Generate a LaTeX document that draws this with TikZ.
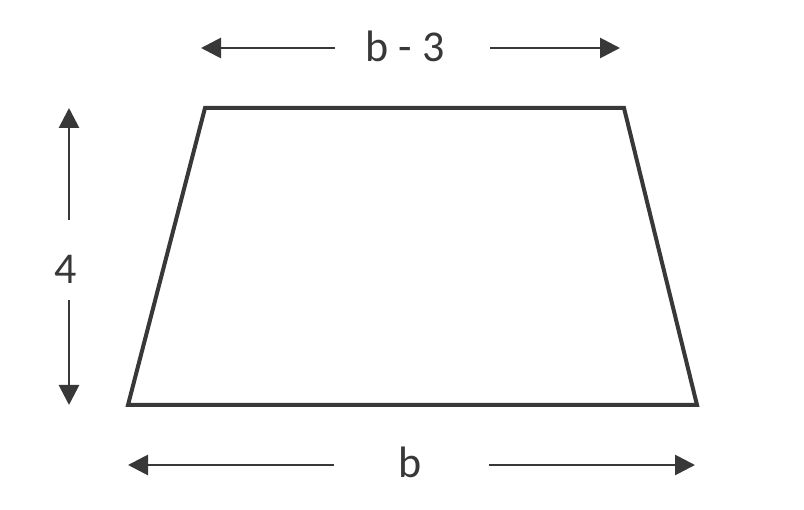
\documentclass[tikz,border=0pt]{standalone}
\usepackage{fontspec}
\setmainfont{Carlito}
\usetikzlibrary{arrows.meta}
\definecolor{ink}{HTML}{383838}
\begin{document}
\begin{tikzpicture}[x=1pt,y=-1pt,
  shape line/.style={draw=ink,line width=4pt,line join=miter},
  dim/.style={draw=ink,line width=2.8pt,-{Triangle[length=20pt,width=20pt]}},
  lbl/.style={text=ink,font=\fontsize{44}{48}\selectfont,inner sep=0pt}]
\useasboundingbox (0,0) rectangle (804,510);
\coordinate (A) at (128,405);
\coordinate (B) at (697,405);
\coordinate (C) at (624,108);
\coordinate (D) at (205,108);
\draw[shape line] (A) -- (B) -- (C) -- (D) -- cycle;
% top dimension
\node[lbl] (t) at (405,46) {b - 3};
\coordinate (tl1) at (335,48); \coordinate (tl2) at (201,48);
\coordinate (tr1) at (490,48); \coordinate (tr2) at (620,48);
\draw[dim] (tl1) -- (tl2);
\draw[dim] (tr1) -- (tr2);
% left dimension
\node[lbl] (l) at (66,269) {4};
\coordinate (lu1) at (69,220); \coordinate (lu2) at (69,108);
\coordinate (ld1) at (69,300); \coordinate (ld2) at (69,405);
\draw[dim] (lu1) -- (lu2);
\draw[dim] (ld1) -- (ld2);
% bottom dimension
\node[lbl] (b) at (410,462) {b};
\coordinate (bl1) at (334,465); \coordinate (bl2) at (128,465);
\coordinate (br1) at (489,465); \coordinate (br2) at (695,465);
\draw[dim] (bl1) -- (bl2);
\draw[dim] (br1) -- (br2);
\end{tikzpicture}
\end{document}
